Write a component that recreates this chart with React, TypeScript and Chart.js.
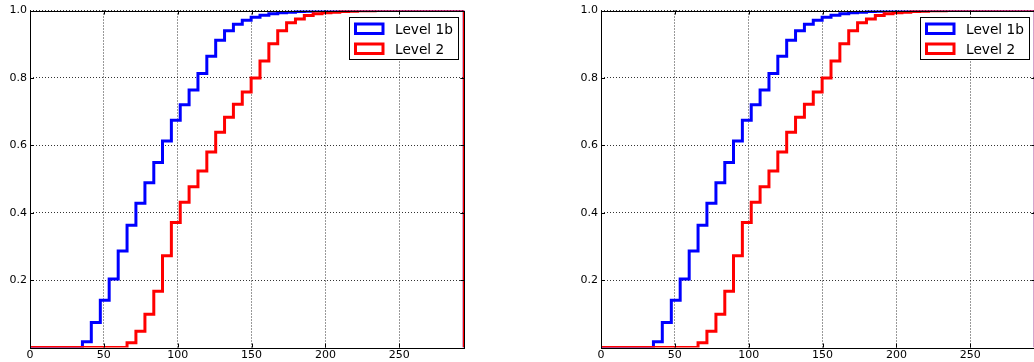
import React, { useEffect, useRef } from "react";
import { Chart, registerables } from "chart.js";

Chart.register(...registerables);

const xTicks = [0, 50, 100, 150, 200, 250];
const yTicks = [0.2, 0.4, 0.6, 0.8, 1.0];
const xMax = 294;

const binEdges = [
  35.5, 41.5, 47.6, 53.6, 59.7, 65.7, 71.7, 77.8, 83.8, 89.7, 95.7, 101.7,
  107.7, 113.7, 119.7, 125.7, 131.7, 137.7, 143.7, 149.7, 155.7, 161.7, 167.7,
  173.7, 179.7, 185.7, 191.7, 197.7, 203.7, 209.7, 215.7, 221.7, 227.7, 233.7,
];

const level1b = [
  0.017, 0.074, 0.14, 0.203, 0.286, 0.363, 0.428, 0.489, 0.549, 0.613, 0.674,
  0.72, 0.764, 0.813, 0.864, 0.912, 0.94, 0.959, 0.971, 0.98, 0.986, 0.99,
  0.993, 0.995, 0.997, 0.998, 0.999, 0.9995, 1.0, 1.0, 1.0, 1.0, 1.0, 1.0,
];

const level2 = [
  0, 0, 0, 0, 0, 0.014, 0.048, 0.099, 0.167, 0.272, 0.371, 0.431, 0.477, 0.524,
  0.58, 0.639, 0.683, 0.722, 0.758, 0.8, 0.85, 0.901, 0.94, 0.964, 0.975,
  0.985, 0.99, 0.993, 0.995, 0.997, 0.998, 0.999, 0.9995, 1.0,
];

const seriesNames = ["Level 1b", "Level 2"];
const seriesColors = ["#0000ff", "#ff0000"];

const FONT = '"DejaVu Sans", "Liberation Sans", sans-serif';

function buildPoints(vals: number[]) {
  const pts = [{ x: 0, y: 0 }];
  binEdges.forEach((e, i) => pts.push({ x: e, y: vals[i] }));
  pts.push({ x: xMax, y: 1 });
  pts.push({ x: xMax, y: 0 });
  return pts;
}

const framePlugin = {
  id: "frameAndLegend",
  afterDatasetsDraw(chart: any) {
    const { ctx, chartArea } = chart;
    const { left, right, top, bottom } = chartArea;
    const xs = chart.scales.x;
    const ys = chart.scales.y;
    ctx.save();
    ctx.strokeStyle = "#000";
    ctx.lineWidth = 1;
    ctx.setLineDash([]);
    ctx.beginPath();
    xTicks.forEach((v) => {
      const px = Math.round(xs.getPixelForValue(v)) + 0.5;
      ctx.moveTo(px, bottom);
      ctx.lineTo(px, bottom - 4);
      ctx.moveTo(px, top);
      ctx.lineTo(px, top + 4);
    });
    yTicks.forEach((v) => {
      const py = Math.round(ys.getPixelForValue(v)) + 0.5;
      ctx.moveTo(left, py);
      ctx.lineTo(left + 4, py);
      ctx.moveTo(right, py);
      ctx.lineTo(right - 4, py);
    });
    ctx.stroke();
    ctx.strokeRect(
      Math.round(left) + 0.5,
      Math.round(top) + 0.5,
      Math.round(right) - Math.round(left),
      Math.round(bottom) - Math.round(top)
    );

    // legend
    const bw = 109;
    const bh = 42;
    const bx = Math.round(right - 6.6 - bw) + 0.5;
    const by = Math.round(top + 6.8) + 0.5;
    ctx.fillStyle = "#fff";
    ctx.fillRect(bx, by, bw, bh);
    ctx.strokeStyle = "#000";
    ctx.lineWidth = 1;
    ctx.strokeRect(bx, by, bw, bh);
    ctx.font = `13.7px ${FONT}`;
    ctx.textBaseline = "alphabetic";
    ctx.textAlign = "left";
    seriesNames.forEach((name, i) => {
      const cy = by + 11 + i * 20;
      ctx.strokeStyle = seriesColors[i];
      ctx.lineWidth = 3;
      ctx.strokeRect(bx + 6, cy - 4.5, 27.5, 9.5);
      ctx.fillStyle = "#000";
      ctx.fillText(name, bx + 45.5, cy + 5.2);
    });
    ctx.restore();
  },
};

function Panel({ left }: { left: number }) {
  const ref = useRef<HTMLCanvasElement | null>(null);
  useEffect(() => {
    if (!ref.current) return;
    const chart = new Chart(ref.current, {
      type: "line",
      data: {
        datasets: [
          {
            label: seriesNames[0],
            data: buildPoints(level1b),
            borderColor: seriesColors[0],
            borderWidth: 3,
            stepped: "before",
            pointRadius: 0,
            fill: false,
            clip: 0,
            order: 1,
          },
          {
            label: seriesNames[1],
            data: buildPoints(level2),
            borderColor: seriesColors[1],
            borderWidth: 3,
            stepped: "before",
            pointRadius: 0,
            fill: false,
            clip: 0,
            order: 0,
          },
        ],
      },
      options: {
        responsive: false,
        maintainAspectRatio: false,
        animation: false,
        devicePixelRatio: 1,
        layout: { padding: { top: 10.5, right: 15.7, bottom: 0, left: 0 } },
        plugins: {
          legend: { display: false },
          tooltip: { enabled: false },
        },
        scales: {
          x: {
            type: "linear",
            min: 0,
            max: xMax,
            afterBuildTicks: (s: any) => {
              s.ticks = xTicks.map((v) => ({ value: v }));
            },
            afterFit: (s: any) => {
              s.height = 14.5;
            },
            border: { display: false, dash: [1, 2] },
            grid: {
              color: "rgba(0,0,0,0.8)",
              lineWidth: 1,
              drawTicks: false,
            },
            ticks: {
              color: "#000",
              font: { family: FONT, size: 11 },
              padding: 1,
              maxRotation: 0,
              callback: (v: any) => String(v),
            },
          },
          y: {
            type: "linear",
            min: 0,
            max: 1,
            afterBuildTicks: (s: any) => {
              s.ticks = yTicks.map((v) => ({ value: v }));
            },
            afterFit: (s: any) => {
              s.width = 30;
            },
            border: { display: false, dash: [1, 2] },
            grid: {
              color: "rgba(0,0,0,0.8)",
              lineWidth: 1,
              drawTicks: false,
            },
            ticks: {
              color: "#000",
              font: { family: FONT, size: 11 },
              padding: 3,
              callback: (v: any) => Number(v).toFixed(1),
            },
          },
        },
      },
      plugins: [framePlugin],
    } as any);
    return () => chart.destroy();
  }, []);
  return (
    <div style={{ position: "absolute", left, top: 0, width: 480, height: 362 }}>
      <canvas ref={ref} width={480} height={362} style={{ display: "block" }} />
    </div>
  );
}

export default function App() {
  return (
    <div
      style={{
        position: "absolute",
        left: 0,
        top: 0,
        width: 1034,
        height: 362,
        overflow: "hidden",
        background: "#fff",
      }}
    >
      <Panel left={0} />
      <Panel left={571} />
    </div>
  );
}
